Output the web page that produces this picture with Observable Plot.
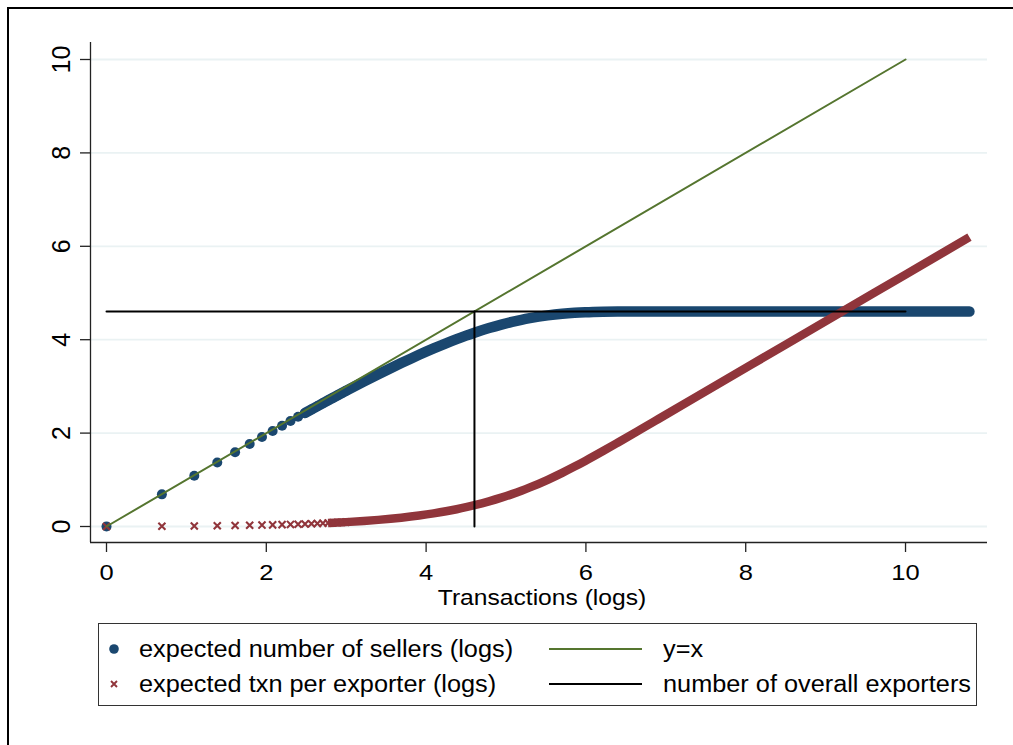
<!DOCTYPE html>
<html><head><meta charset="utf-8">
<script src="https://cdn.jsdelivr.net/npm/d3@7"></script>
<script src="https://cdn.jsdelivr.net/npm/@observablehq/plot@0.6"></script>
<style>
html,body{margin:0;padding:0;background:#fff;overflow:hidden;width:1013px;height:745px;position:relative;}
#frame{position:absolute;left:7px;top:6.5px;width:1100px;height:800px;border-left:2.7px solid #000;border-top:2.7px solid #000;}
#chart{position:absolute;left:0;top:0;}
#legend{position:absolute;left:98px;top:623px;width:877px;height:81px;border:1.2px solid #333;background:#fff;font-family:"Liberation Sans",Arial,sans-serif;font-size:23px;color:#000;}
.item{position:absolute;height:30px;line-height:30px;white-space:nowrap;}
.item span{display:inline-block;transform:scaleX(1.1);transform-origin:0 50%;}
.sw{position:absolute;overflow:visible;}
</style></head><body>
<div id="frame"></div>
<div id="chart"></div>
<div id="legend">
  <svg class="sw" style="left:10px;top:20px" width="10" height="10"><circle cx="5" cy="5" r="4.8" fill="#1a476f"/></svg>
  <div class="item" style="left:40px;top:10px"><span>expected number of sellers (logs)</span></div>
  <svg class="sw" style="left:10px;top:55px" width="10" height="10"><path d="M2,2L8,8M8,2L2,8" stroke="#90353b" stroke-width="1.9"/></svg>
  <div class="item" style="left:40px;top:45px"><span>expected txn per exporter (logs)</span></div>
  <svg class="sw" style="left:450px;top:23px" width="93" height="4"><line x1="0" y1="2" x2="93" y2="2" stroke="#55752f" stroke-width="2"/></svg>
  <div class="item" style="left:564px;top:10px"><span>y=x</span></div>
  <svg class="sw" style="left:450px;top:58px" width="93" height="4"><line x1="0" y1="2" x2="93" y2="2" stroke="#000" stroke-width="2"/></svg>
  <div class="item" style="left:564px;top:45px"><span>number of overall exporters</span></div>
</div>
<script>
// ---- data ----
const xTicks = [0, 2, 4, 6, 8, 10];
const yTicks = [0, 2, 4, 6, 8, 10];
const xTitle = "Transactions (logs)";

// individually visible markers (first transactions)
const sparseX = [0, 0.6931, 1.0986, 1.3863, 1.6094, 1.7918, 1.9459, 2.0794, 2.1972, 2.3026,
  2.3979, 2.4849, 2.5649, 2.6391, 2.7081, 2.7726, 2.8332, 2.8904, 2.9444, 2.9957];
const sparseSellers = [0, 0.6881, 1.0886, 1.3712, 1.5894, 1.7667, 1.9159, 2.0446, 2.1573, 2.2578,
  2.3482, 2.4302, 2.5054, 2.5746, 2.6387, 2.6983, 2.7540, 2.8063, 2.8555, 2.9019];
const sparseTxn = [0, 0.0050, 0.0100, 0.0151, 0.0200, 0.0251, 0.0300, 0.0348, 0.0399, 0.0448,
  0.0498, 0.0547, 0.0596, 0.0645, 0.0694, 0.0743, 0.0792, 0.0841, 0.0889, 0.0938];

// dense band of markers: expected number of sellers (logs)
const bandSellersX = [2.4849, 2.6391, 2.7726, 2.8904, 2.9957, 3.2189, 3.4012, 3.5553, 3.6889, 3.8067,
  3.9120, 4.0943, 4.2485, 4.3820, 4.4998, 4.6052, 4.7875, 4.9416, 5.0752, 5.1930, 5.2983, 5.5215,
  5.7038, 5.8579, 5.9915, 6.2146, 6.3969, 6.6846, 6.9078, 7.6, 8.5, 9.2, 10.0, 10.8];
const bandSellersY = [2.4302, 2.5746, 2.6983, 2.8063, 2.9019, 3.1009, 3.2593, 3.3896, 3.4996, 3.5940,
  3.6763, 3.8130, 3.9223, 4.0118, 4.0864, 4.1494, 4.2494, 4.3243, 4.3817, 4.4263, 4.4613, 4.5206,
  4.5549, 4.5751, 4.5871, 4.5986, 4.6028, 4.6049, 4.6051, 4.6052, 4.6052, 4.6052, 4.6052, 4.6052];

// dense band of markers: expected txn per exporter (logs)
const bandTxnX = [2.7726, 2.8904, 2.9957, 3.2189, 3.4012, 3.5553, 3.6889, 3.8067, 3.9120, 4.0943,
  4.2485, 4.3820, 4.4998, 4.6052, 4.7875, 4.9416, 5.0752, 5.1930, 5.2983, 5.5215, 5.7038, 5.8579,
  5.9915, 6.2146, 6.3969, 6.6846, 6.9078, 7.6, 8.5, 9.2, 10.0, 10.8];
const bandTxnY = [0.0743, 0.0841, 0.0938, 0.1180, 0.1420, 0.1657, 0.1893, 0.2126, 0.2358, 0.2814,
  0.3262, 0.3702, 0.4134, 0.4558, 0.5381, 0.6173, 0.6935, 0.7667, 0.8370, 1.0008, 1.1489, 1.2829,
  1.4044, 1.6160, 1.7942, 2.0798, 2.3026, 2.9948, 3.8948, 4.5948, 5.3948, 6.1948];

// reference lines
const identX = [0, 10], identY = [0, 10];
const exportersX = [0, 10], exportersY = [4.605, 4.605];
const crossX = [4.605, 4.605], crossY = [0, 4.605];

const xDomain = [-0.2003, 11.026];
const yDomain = [-0.3426, 10.364];

const navy = "#1a476f", maroon = "#90353b", green = "#55752f";

const chart = Plot.plot({
  width: 1013, height: 615,
  marginLeft: 90, marginRight: 26, marginTop: 42, marginBottom: 73,
  x: {domain: xDomain},
  y: {domain: yDomain},
  style: {fontFamily: "'Liberation Sans', Arial, sans-serif", background: "transparent", color: "#000", overflow: "visible"},
  marks: [
    Plot.ruleY(yTicks, {y: d => d, stroke: "#eaf2f3", strokeWidth: 1.8}),
    Plot.axisX({ticks: xTicks, tickSize: 10, tickFormat: () => "", label: null, stroke: "#222", strokeWidth: 1.3}),
    Plot.axisY({ticks: yTicks, tickSize: 10, tickFormat: () => "", label: null, stroke: "#222", strokeWidth: 1.3}),
    Plot.ruleX([xDomain[0]], {stroke: "#222", strokeWidth: 1.3}),
    Plot.ruleY([yDomain[0]], {stroke: "#222", strokeWidth: 1.3}),
    Plot.text(yTicks, {y: d => d, text: d => String(d), frameAnchor: "left", dx: -29, rotate: -90,
      fontSize: 25, textAnchor: "middle", lineAnchor: "middle", fill: "#000"}),
    Plot.text(xTicks, {x: d => d, text: d => String(d), frameAnchor: "bottom", dy: 30,
      fontSize: 22, textAnchor: "middle", lineAnchor: "middle", fill: "#000"}),
    Plot.text([xTitle], {text: d => d, frameAnchor: "bottom", dy: 55, dx: 3,
      fontSize: 21.9, textAnchor: "middle", lineAnchor: "middle", fill: "#000"}),
    // expected number of sellers
    Plot.line(bandSellersY, {x: bandSellersX, y: bandSellersY, stroke: navy, strokeWidth: 10.5,
      strokeLinecap: "round", strokeLinejoin: "round", curve: "monotone-x"}),
    Plot.dot(sparseSellers, {x: sparseX, y: sparseSellers, r: 5, fill: navy, stroke: "none"}),
    // expected txn per exporter
    Plot.line(bandTxnY, {x: bandTxnX, y: bandTxnY, stroke: maroon, strokeWidth: 8.5,
      strokeLinecap: "butt", strokeLinejoin: "round", curve: "monotone-x"}),
    Plot.dot(sparseTxn, {x: sparseX, y: sparseTxn, symbol: "times", r: 3.3, stroke: maroon, strokeWidth: 2.1}),
    // y = x
    Plot.line(identY, {x: identX, y: identY, stroke: green, strokeWidth: 2}),
    // number of overall exporters
    Plot.line(exportersY, {x: exportersX, y: exportersY, stroke: "#000", strokeWidth: 2}),
    Plot.line(crossY, {x: crossX, y: crossY, stroke: "#000", strokeWidth: 2})
  ]
});

document.getElementById("chart").appendChild(chart);

// the reference font is wider than Arial: stretch the horizontal texts
chart.querySelectorAll("text").forEach(t => {
  const fs = parseFloat(getComputedStyle(t).fontSize);
  let s = 1;
  if (Math.abs(fs - 22) < 0.05) s = 1.16;        // x tick labels
  else if (Math.abs(fs - 21.9) < 0.05) s = 1.125; // x title
  if (s !== 1) {
    const w = t.getComputedTextLength();
    t.setAttribute("textLength", (w * s).toFixed(2));
    t.setAttribute("lengthAdjust", "spacingAndGlyphs");
  }
});
</script>
</body></html>
